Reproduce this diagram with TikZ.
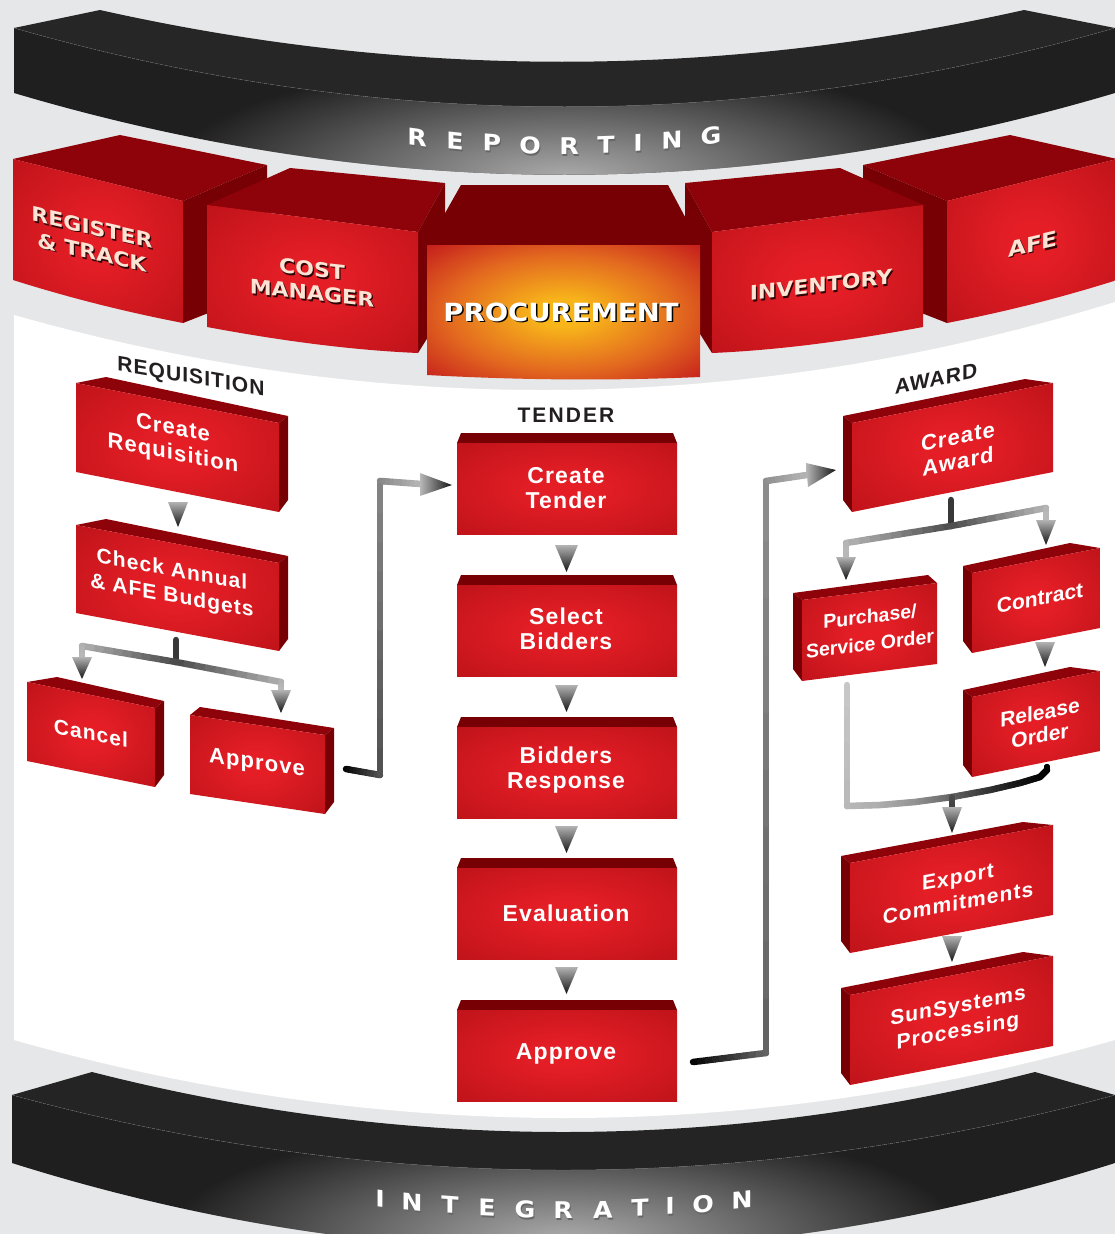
\documentclass[tikz,border=0pt]{standalone}
\usepackage{fontspec}
\setmainfont{Liberation Sans}
\newfontfamily\modfont{DejaVu Sans}[FakeStretch=1.1]
\newfontfamily\boxfont{Liberation Sans}[LetterSpace=5]
\newfontfamily\boxfontn{Liberation Sans}
\newfontfamily\labfont{Liberation Sans}[LetterSpace=5]
\newfontfamily\labfontw{Liberation Sans}[LetterSpace=10]
\usetikzlibrary{calc,fadings}
\definecolor{bggrey}{HTML}{E6E7E8}
\definecolor{rtop}{HTML}{8E0309}
\definecolor{rside}{HTML}{760004}
\definecolor{rbright}{HTML}{E51E26}
\definecolor{rdark}{HTML}{AE0E14}
\definecolor{modtxt}{HTML}{FCE3D4}
\definecolor{modshadow}{HTML}{2E0405}
\definecolor{labtxt}{HTML}{231F20}
\definecolor{pY}{HTML}{F8B51A}
\definecolor{pO}{HTML}{E36A1F}
\definecolor{pR}{HTML}{C2151C}
\definecolor{pD}{HTML}{B21016}
\pgfdeclareradialshading{redglow}{\pgfpointorigin}{color(0bp)=(rbright); color(6bp)=(rbright); color(50bp)=(rdark)}
\pgfdeclareradialshading{procglow}{\pgfpointorigin}{color(0bp)=(pY); color(5bp)=(pY); color(21bp)=(pO); color(37bp)=(pR); color(50bp)=(pD)}
\tikzfading[name=glowfade, inner color=transparent!0, outer color=transparent!100]
\tikzset{
  ptext/.style={text=white, align=center, inner sep=0pt, font=\boxfont\bfseries\fontsize{22}{25}\selectfont},
  modt/.style={align=center, inner sep=0pt},
  lab/.style={text=labtxt, inner sep=0pt, font=\labfont\bfseries\fontsize{21}{24}\selectfont},
  conn/.style={line width=6.5pt, line cap=round},
  tri/.style={top color=black!30, bottom color=black!92},
  trih/.style={left color=black!28, right color=black!92},
  bandl/.style={inner sep=0pt, font=\modfont\bfseries\fontsize{23}{26}\selectfont},
}
% gradient connector between two named coordinates
\newcommand\gline[4]{%
  \foreach \k in {0,...,9}{%
    \pgfmathsetmacro\ta{\k/10}%
    \pgfmathsetmacro\tb{(\k+1)/10}%
    \pgfmathtruncatemacro\pp{#3+(#4-#3)*(\k+0.5)/10}%
    \draw[conn, draw=black!\pp] ($(#1)!\ta!(#2)$) -- ($(#1)!\tb!(#2)$);
  }%
}
% slanted box, side face on the right
\newcommand\redL[7]{%
  \fill[rtop] (#1,#2) -- (#1+#6,#2-#7) -- (#3+9,#4-7) -- (#3,#4) -- cycle;
  \fill[rside] (#3,#4) -- (#3+9,#4-7) -- (#3+9,#4+#5-12) -- (#3,#4+#5) -- cycle;
  \shade[shading=redglow] (#1,#2) -- (#3,#4) -- (#3,#4+#5) -- (#1,#2+#5) -- cycle;
}
% slanted box, side face on the left
\newcommand\redR[7]{%
  \fill[rtop] (#1,#2) -- (#1-9,#2-7) -- (#3-#6,#4-#7) -- (#3,#4) -- cycle;
  \fill[rside] (#1,#2) -- (#1-9,#2-7) -- (#1-9,#2+#5-12) -- (#1,#2+#5) -- cycle;
  \shade[shading=redglow] (#1,#2) -- (#3,#4) -- (#3,#4+#5) -- (#1,#2+#5) -- cycle;
}
% front-view box of the tender column
\newcommand\redT[1]{%
  \shade[left color=rside, middle color=rtop, right color=rside] (461,#1) -- (673,#1) -- (677,#1+10) -- (457,#1+10) -- cycle;
  \shade[shading=redglow] (457,#1+10) rectangle (677,#1+101);
}
% module label with shadow
\newcommand\modlab[7]{%
  \node[modt, text=modshadow, yslant=#4, font=\modfont\bfseries\fontsize{#5}{#6}\selectfont] (#1-s) at (#2+1.3,#3+1.6) {#7};
  \node[modt, text=modtxt, yslant=#4, font=\modfont\bfseries\fontsize{#5}{#6}\selectfont] (#1) at (#2,#3) {#7};
}
\begin{document}
\begin{tikzpicture}[x=1pt,y=-1pt]
\useasboundingbox (0,0) rectangle (1115,1234);
\fill[bggrey] (0,0) rectangle (1115,1234);
% white working area
\fill[white] (14,315) .. controls (381,419) and (748,415) .. (1115,302) -- (1115,1040) .. controls (748,1144) and (381,1144) .. (14,1040) -- cycle;

% ===== REPORTING band =====
\shade[left color=black!85, middle color=black, right color=black!85] (14,28) -- (100,10) .. controls (408,79) and (716,79) .. (1024,10) -- (1115,28) .. controls (748,133) and (381,133) .. (14,28) -- cycle;
\shade[left color=black!88, middle color=black, right color=black!88] (14,28) .. controls (381,133) and (748,133) .. (1115,28) -- (1115,93) .. controls (748,202) and (381,202) .. (14,93) -- cycle;
\begin{scope}
  \clip (14,28) .. controls (381,133) and (748,133) .. (1115,28) -- (1115,93) .. controls (748,202) and (381,202) .. (14,93) -- cycle;
  \fill[black!32, path fading=glowfade] (565,178) ellipse [x radius=400, y radius=120];
\end{scope}
\draw[black!55, line width=0.5pt, dash pattern=on 1pt off 1pt] (14,28) .. controls (381,133) and (748,133) .. (1115,28);

% ===== modules =====
% REGISTER & TRACK
\fill[rtop] (13,159) -- (120,135) -- (267,165) -- (183,201) -- cycle;
\fill[rside] (183,201) -- (267,165) -- (267,290) -- (183,323) -- cycle;
\shade[shading=redglow] (13,159) -- (183,201) -- (183,323) .. controls (126,312) and (70,298) .. (13,280) -- cycle;
% COST MANAGER
\fill[rtop] (207,205) -- (290,168) -- (445,183) -- (418,232) -- cycle;
\fill[rside] (418,232) -- (445,183) -- (445,310) -- (418,353) -- cycle;
\shade[shading=redglow] (207,205) -- (418,232) -- (418,353) .. controls (348,350) and (277,340) .. (207,327) -- cycle;
% AFE
\fill[rtop] (1117,159) -- (1010,135) -- (863,165) -- (947,201) -- cycle;
\fill[rside] (947,201) -- (863,165) -- (863,290) -- (947,323) -- cycle;
\shade[shading=redglow] (947,201) -- (1117,159) -- (1117,280) .. controls (1060,298) and (1004,312) .. (947,323) -- cycle;
% INVENTORY
\fill[rtop] (923,205) -- (840,168) -- (685,183) -- (712,232) -- cycle;
\fill[rside] (712,232) -- (685,183) -- (685,310) -- (712,353) -- cycle;
\shade[shading=redglow] (712,232) -- (923,205) -- (923,327) .. controls (853,340) and (782,350) .. (712,353) -- cycle;
% PROCUREMENT
\shade[left color=rside, middle color=rtop, right color=rside] (461,185) -- (668,185) -- (700,245) -- (427,245) -- cycle;
\shade[shading=procglow] (427,245) -- (700,245) -- (700,377) .. controls (609,381) and (518,380) .. (427,375) -- cycle;

\modlab{reg}{92}{240}{-0.23}{20}{25}{REGISTER\\\& TRACK}
\modlab{cost}{312}{281}{-0.11}{20}{24}{COST\\MANAGER}
\modlab{inv}{821}{285}{0.12}{20}{24}{INVENTORY}
\modlab{afe}{1033}{244}{0.23}{21}{24}{AFE}
\node[modt, text=black, font=\modfont\bfseries\fontsize{25}{28}\selectfont] (proc-s) at (562.5,313.8) {PROCUREMENT};
\node[modt, text=white, font=\modfont\bfseries\fontsize{25}{28}\selectfont] (proc) at (561,312) {PROCUREMENT};

% ===== INTEGRATION band =====
\shade[left color=black!86, middle color=black, right color=black!86] (12,1095) -- (92,1072) .. controls (406,1152) and (720,1152) .. (1035,1072) -- (1115,1095) .. controls (747,1195) and (380,1195) .. (12,1095) -- cycle;
\shade[left color=black!88, middle color=black, right color=black!88] (12,1095) .. controls (380,1195) and (747,1195) .. (1115,1095) -- (1115,1163) .. controls (747,1279) and (380,1279) .. (12,1163) -- cycle;
\begin{scope}
  \clip (12,1095) .. controls (380,1195) and (747,1195) .. (1115,1095) -- (1115,1163) .. controls (747,1279) and (380,1279) .. (12,1163) -- cycle;
  \fill[black!32, path fading=glowfade] (565,1240) ellipse [x radius=400, y radius=120];
\end{scope}
\draw[black!55, line width=0.5pt, dash pattern=on 1pt off 1pt] (12,1095) .. controls (380,1195) and (747,1195) .. (1115,1095);

% band letters
\foreach \ch/\xx/\yy in {R/417/137, E/455/141, P/492/143, O/530/145, R/569/146, T/606/145, I/638/143, N/672/140, G/711/136}{
  \pgfmathsetmacro\sl{0.000914*(\xx-565)}
  \node[bandl, text=black!60, yslant=\sl] (rep-s\xx) at (\xx+1,\yy+2) {\ch};
  \node[bandl, text=white, yslant=\sl] (rep-\xx) at (\xx,\yy) {\ch};
}
\foreach \ch/\xx/\yy in {I/380/1199, N/412/1202, T/450/1205, E/487/1208, G/525/1209.5, R/563/1210, A/603/1209.5, T/640/1208, I/670/1206, O/703/1204, N/742/1200}{
  \pgfmathsetmacro\sl{0.000643*(\xx-565)}
  \node[bandl, text=black!60, yslant=\sl] (int-s\xx) at (\xx+1,\yy+2) {\ch};
  \node[bandl, text=white, yslant=\sl] (int-\xx) at (\xx,\yy) {\ch};
}

% ===== section labels =====
\node[lab, yslant=-0.17] (lreq) at (191,378) {REQUISITION};
\node[lab, font=\labfontw\bfseries\fontsize{21}{24}\selectfont] (lten) at (566,415) {TENDER};
\node[lab, yslant=0.21] (lawd) at (936,379) {AWARD};

% ===== process boxes =====
\redL{76}{383}{279}{423}{89}{30}{6}
\redL{76}{525}{279}{563}{88}{30}{6}
\redL{27}{682}{155}{708}{79}{30}{5}
\redL{190}{715}{325}{735}{79}{10}{8}
\redT{433}
\redT{575}
\redT{717}
\redT{858}
\redT{1000}
\redR{852}{423}{1053}{383}{89}{28}{4}
\redR{802}{600}{937}{583}{81}{9}{8}
\redR{972}{573}{1100}{548}{80}{30}{5}
\redR{972}{697}{1100}{671}{80}{30}{4}
\redR{850}{863}{1053}{825}{90}{30}{3}
\redR{850}{995}{1053}{956}{90}{30}{4}

% ===== connectors =====
% branch below Check Annual
\coordinate (b1s) at (176,640);
\coordinate (b1j) at (176,662);
\coordinate (b1l) at (82,646);
\coordinate (b1la) at (82,658);
\coordinate (b1r) at (281,682);
\coordinate (b1ra) at (281,691);
\gline{b1s}{b1j}{78}{78}
\gline{b1j}{b1l}{72}{32}
\gline{b1l}{b1la}{32}{28}
\gline{b1j}{b1r}{72}{32}
\gline{b1r}{b1ra}{32}{28}
% Approve -> Create Tender
\coordinate (l1) at (346,769);
\coordinate (l2) at (380,775);
\coordinate (l3) at (380,481);
\coordinate (l4) at (421,484);
\gline{l1}{l2}{100}{70}
\gline{l2}{l3}{70}{48}
\gline{l3}{l4}{48}{30}
% Tender Approve -> Create Award
\coordinate (r1) at (693,1062);
\coordinate (r2) at (766,1053);
\coordinate (r3) at (766,481);
\coordinate (r4) at (807,475);
\gline{r1}{r2}{100}{62}
\gline{r2}{r3}{62}{45}
\gline{r3}{r4}{45}{30}
% branch below Create Award
\coordinate (a1s) at (951,500);
\coordinate (a1j) at (951,526);
\coordinate (a1l) at (846,543);
\coordinate (a1la) at (846,558);
\coordinate (a1r) at (1046,508);
\coordinate (a1ra) at (1046,521);
\gline{a1s}{a1j}{78}{78}
\gline{a1j}{a1l}{72}{30}
\gline{a1l}{a1la}{30}{28}
\gline{a1j}{a1r}{72}{30}
\gline{a1r}{a1ra}{30}{28}
% merge into Export Commitments
\coordinate (m0) at (847,685);
\coordinate (m1) at (847,806);
\coordinate (m2) at (880,805);
\coordinate (m3) at (915,802);
\coordinate (m4) at (952,797);
\coordinate (m5) at (990,790);
\coordinate (m6) at (1020,783);
\coordinate (m7) at (1040,777);
\coordinate (m8) at (1047,770);
\coordinate (m9) at (1047,767);
\coordinate (ms) at (952,808);
\gline{m0}{m1}{22}{28}
\gline{m1}{m2}{28}{32}
\gline{m2}{m3}{32}{42}
\gline{m3}{m4}{42}{60}
\gline{m4}{m5}{60}{80}
\gline{m5}{m6}{80}{92}
\gline{m6}{m7}{92}{98}
\gline{m7}{m8}{98}{100}
\gline{m8}{m9}{100}{100}
\gline{m4}{ms}{70}{75}

% ===== arrowheads =====
\shade[tri] (168,502) -- (188,502) -- (178,527) -- cycle;
\shade[tri] (72,657) -- (92,657) -- (82,679) -- cycle;
\shade[tri] (271,690) -- (291,690) -- (281,713) -- cycle;
\shade[trih] (420,473) -- (420,496) -- (452,485) -- cycle;
\foreach \ty in {545,685,826,967}{
  \shade[tri] (555,\ty) -- (578,\ty) -- (566.5,\ty+27) -- cycle;
}
\shade[trih] (806,463) -- (808,487) -- (836,470) -- cycle;
\shade[tri] (836,557) -- (856,557) -- (846,580) -- cycle;
\shade[tri] (1036,520) -- (1056,520) -- (1046,545) -- cycle;
\shade[tri] (1035,642) -- (1055,642) -- (1045,667) -- cycle;
\shade[tri] (942,807) -- (962,807) -- (952,833) -- cycle;
\shade[tri] (942,936) -- (962,936) -- (952,962) -- cycle;

% ===== box texts =====
\node[ptext, yslant=-0.19] (creq) at (173,442) {Create\\Requisition};
\node[ptext, yslant=-0.18, font=\boxfont\bfseries\fontsize{21}{26}\selectfont] (chk) at (172,584) {Check Annual\\\& AFE Budgets};
\node[ptext, yslant=-0.2, font=\boxfont\bfseries\fontsize{21}{25}\selectfont] (cancel) at (91,733) {Cancel};
\node[ptext, yslant=-0.15] (appl) at (257,764) {Approve};
\node[ptext, font=\boxfont\bfseries\fontsize{23}{25}\selectfont] (ct) at (566,488) {Create\\Tender};
\node[ptext, font=\boxfont\bfseries\fontsize{23}{25}\selectfont] (sb) at (566,629) {Select\\Bidders};
\node[ptext, font=\boxfont\bfseries\fontsize{23}{25}\selectfont] (bres) at (566,770) {Bidders\\Response};
\node[ptext, font=\boxfont\bfseries\fontsize{23}{25}\selectfont] (ev) at (566,913) {Evaluation};
\node[ptext, font=\boxfont\bfseries\fontsize{23}{25}\selectfont] (apt) at (566,1054) {Approve};
\node[ptext, yslant=0.2] (caw) at (958,449) {Create\\Award};
\node[ptext, yslant=0.12, font=\boxfontn\bfseries\fontsize{19.5}{27.5}\selectfont] (pso) at (870,630) {Purchase/\\Service Order};
\node[ptext, yslant=0.19, font=\boxfontn\bfseries\fontsize{21}{25}\selectfont] (con) at (1040,598) {Contract};
\node[ptext, yslant=0.19, font=\boxfontn\bfseries\fontsize{21}{23}\selectfont] (rel) at (1040,724) {Release\\Order};
\node[ptext, yslant=0.19, font=\boxfont\bfseries\fontsize{21}{26}\selectfont] (exp) at (958,890) {Export\\Commitments};
\node[ptext, yslant=0.19, font=\boxfont\bfseries\fontsize{21}{25}\selectfont] (sun) at (958,1020) {SunSystems\\Processing};
\end{tikzpicture}
\end{document}
